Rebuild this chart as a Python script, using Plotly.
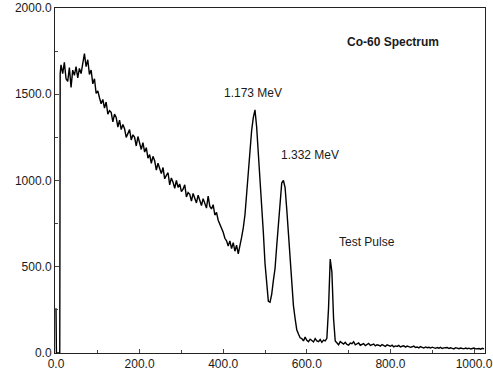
import plotly.graph_objects as go

# Channel numbers (x) and counts (y)
CHANNELS = [0, 1, 9, 10] + list(range(12, 1025, 4))
COUNTS = [
    260, 0, 0, 1620,
    # 12 - 48
    1670, 1620, 1685, 1590, 1575, 1655, 1540, 1640, 1610, 1660,
    # 52 - 88
    1595, 1650, 1620, 1690, 1735, 1660, 1700, 1615, 1640, 1560,
    # 92 - 128
    1590, 1505, 1520, 1480, 1445, 1470, 1420, 1455, 1385, 1405,
    # 132 - 168
    1395, 1340, 1385, 1365, 1310, 1350, 1295, 1325, 1300, 1250,
    # 172 - 208
    1275, 1295, 1235, 1265, 1250, 1200, 1255, 1215, 1180, 1220,
    # 212 - 248
    1165, 1190, 1130, 1150, 1100, 1140, 1115, 1060, 1100, 1070,
    # 252 - 288
    1040, 1075, 1010, 1030, 1045, 975, 1015, 990, 955, 1000,
    # 292 - 328
    960, 980, 935, 950, 975, 905, 930, 920, 880, 925,
    # 332 - 368
    900, 870, 915, 880, 855, 895, 860, 840, 910, 850,
    # 372 - 408
    835, 860, 800, 815, 770, 745, 730, 700, 665, 650,
    # 412 - 448
    620, 650, 605, 640, 590, 625, 575, 615, 670, 725,
    # 452 - 488
    800, 920, 1050, 1180, 1290, 1365, 1410, 1310, 1160, 1020,
    # 492 - 528
    900, 700, 520, 380, 300, 295, 340, 420, 490, 620,
    # 532 - 568
    760, 880, 985, 1000, 960, 835, 690, 540, 400, 275,
    # 572 - 608
    200, 135, 110, 88, 84, 70, 92, 74, 66, 80,
    # 612 - 648
    72, 64, 84, 70, 66, 78, 62, 75, 70, 85,
    # 652 - 688
    260, 545, 470, 200, 70, 55, 48, 66, 58, 52,
    # 692 - 728
    62, 50, 46, 58, 54, 65, 47, 52, 58, 45,
    # 732 - 768
    50, 55, 43, 48, 56, 44, 47, 52, 41, 48,
    # 772 - 808
    45, 40, 49, 44, 38, 47, 43, 39, 45, 36,
    # 812 - 848
    41, 38, 44, 35, 39, 42, 34, 40, 37, 33,
    # 852 - 888
    36, 40, 32, 35, 30, 37, 33, 29, 35, 31,
    # 892 - 928
    33, 29, 34, 31, 27, 32, 28, 33, 26, 30,
    # 932 - 968
    29, 32, 26, 30, 27, 24, 31, 28, 25, 29,
    # 972 - 1008
    27, 24, 29, 25, 28, 23, 26, 29, 24, 25,
    # 1012 - 1024
    26, 22, 27, 24,
]
assert len(CHANNELS) == len(COUNTS)

X_TICKS = [0, 200, 400, 600, 800, 1000]
Y_TICKS = [0, 500, 1000, 1500, 2000]

LABELS = ["Co-60 Spectrum", "1.173 MeV", "1.332 MeV", "Test Pulse"]
LABEL_POS = [(807, 1804), (471, 1508), (607, 1149), (743, 645)]
LABEL_BOLD = [True, False, False, False]

FONT = "Liberation Sans, Arial, sans-serif"

fig = go.Figure()
fig.add_trace(go.Scatter(
    x=CHANNELS, y=COUNTS, mode="lines",
    line=dict(color="black", width=1.4),
    hoverinfo="skip", showlegend=False,
))

for text, (ax, ay), bold in zip(LABELS, LABEL_POS, LABEL_BOLD):
    fig.add_annotation(
        x=ax, y=ay, xref="x", yref="y",
        text=f"<b>{text}</b>" if bold else text,
        showarrow=False,
        font=dict(family=FONT, size=12, color="#1a1a1a"),
        xanchor="center", yanchor="middle",
    )

axis_common = dict(
    showline=True, mirror=True, linecolor="#222", linewidth=1,
    ticks="inside", ticklen=4, tickcolor="#444", tickwidth=1,
    showgrid=False, zeroline=False, automargin=False,
    tickfont=dict(family=FONT, size=12, color="#1a1a1a"),
    tickformat=".1f",
)

fig.update_layout(
    width=493, height=377,
    margin=dict(l=55, r=8, t=8, b=24),
    paper_bgcolor="white", plot_bgcolor="white",
    xaxis=dict(
        range=[-2.4, 1026.3], tickvals=X_TICKS,
        minor=dict(dtick=100, tick0=0, ticks="inside", ticklen=3, tickcolor="#444"),
        **axis_common,
    ),
    yaxis=dict(
        range=[0, 2000], tickvals=Y_TICKS,
        minor=dict(dtick=250, tick0=0, ticks="inside", ticklen=3, tickcolor="#444"),
        **axis_common,
    ),
)

fig.write_html(
    "out.html",
    config={"displayModeBar": False},
    post_script="document.body.style.margin='0';",
)
